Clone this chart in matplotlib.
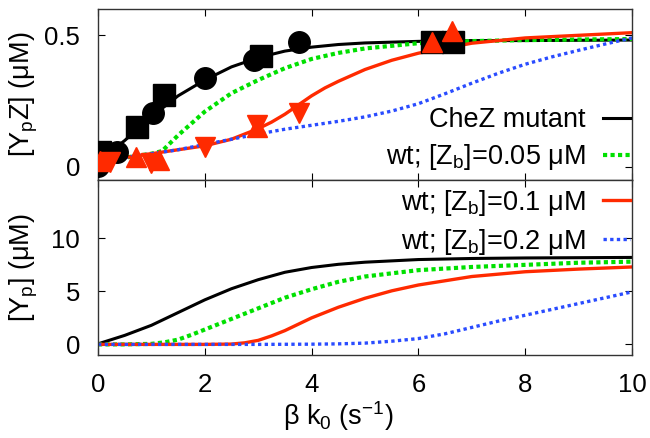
import matplotlib
matplotlib.use("Agg")
import matplotlib.pyplot as plt
from matplotlib.lines import Line2D

plt.rcParams["font.family"] = ["Liberation Sans", "DejaVu Sans"]
plt.rcParams["mathtext.fontset"] = "custom"
plt.rcParams["mathtext.rm"] = "Liberation Sans"
plt.rcParams["mathtext.it"] = "Liberation Sans:italic"
plt.rcParams["font.size"] = 19

# --- courbes du panneau haut : [YpZ] (uM) ---
x_mut_h = [0, 0.5, 1, 1.5, 2, 2.5, 3, 3.5, 4, 4.5, 5, 6, 7, 8, 9, 10]
y_mut_h = [0.02, 0.1, 0.19, 0.27, 0.33, 0.38, 0.415, 0.44, 0.455, 0.465, 0.471, 0.477, 0.48, 0.48, 0.481, 0.482]

x_z05_h = [0, 0.5, 1, 1.2, 1.5, 1.75, 2, 2.5, 3, 3.5, 4, 4.5, 5, 6, 7, 8, 10]
y_z05_h = [0.02, 0.035, 0.05, 0.06, 0.12, 0.165, 0.21, 0.28, 0.33, 0.375, 0.41, 0.433, 0.45, 0.47, 0.478, 0.482, 0.486]

x_z1_h = [0, 0.5, 1, 1.5, 2, 2.5, 3, 3.25, 3.5, 3.75, 4, 4.25, 4.5, 5, 5.5, 6, 7, 8, 9, 10]
y_z1_h = [0.02, 0.035, 0.05, 0.065, 0.08, 0.105, 0.145, 0.17, 0.2, 0.235, 0.27, 0.3, 0.325, 0.37,
          0.405, 0.432, 0.47, 0.49, 0.5, 0.51]

x_z2_h = [0, 0.5, 1, 1.5, 2, 2.5, 3, 3.5, 4, 4.5, 5, 5.5, 6, 6.5, 7, 7.5, 8, 8.5, 9, 9.5, 10]
y_z2_h = [0.02, 0.035, 0.05, 0.065, 0.085, 0.105, 0.125, 0.143, 0.158, 0.173, 0.19, 0.212, 0.24,
          0.278, 0.318, 0.356, 0.39, 0.418, 0.443, 0.467, 0.49]

# --- points experimentaux ---
x_cercles = [0.0, 0.35, 1.03, 2.0, 2.93, 3.77]
y_cercles = [0.005, 0.055, 0.205, 0.336, 0.405, 0.473]
x_carres = [0.04, 0.73, 1.23, 3.06, 6.26, 6.64]
y_carres = [0.055, 0.15, 0.273, 0.42, 0.473, 0.473]
x_tri_haut = [0.03, 0.72, 1.15, 2.98, 6.26, 6.63]
y_tri_haut = [0.024, 0.036, 0.026, 0.15, 0.475, 0.517]
x_tri_bas = [0.22, 1.0, 2.0, 2.98, 3.76]
y_tri_bas = [0.02, 0.015, 0.074, 0.16, 0.205]

# --- courbes du panneau bas : [Yp] (uM) ---
x_mut_b = [0, 0.5, 1, 1.5, 2, 2.5, 3, 3.5, 4, 4.5, 5, 6, 7, 8, 10]
y_mut_b = [0.05, 0.85, 1.8, 3.0, 4.2, 5.25, 6.1, 6.8, 7.25, 7.55, 7.75, 8.0, 8.1, 8.15, 8.2]

x_z05_b = [0, 0.5, 1, 1.25, 1.5, 1.75, 2, 2.5, 3, 3.5, 4, 4.5, 5, 6, 7, 8, 9, 10]
y_z05_b = [0, 0, 0.05, 0.2, 0.45, 0.9, 1.4, 2.4, 3.4, 4.4, 5.2, 5.9, 6.4, 7.0, 7.3, 7.5, 7.7, 7.8]

x_z1_b = [0, 1, 2, 2.5, 2.75, 3, 3.25, 3.5, 3.75, 4, 4.5, 5, 5.5, 6, 7, 8, 9, 10]
y_z1_b = [0, 0, 0, 0.03, 0.15, 0.38, 0.8, 1.3, 1.9, 2.5, 3.5, 4.35, 5.05, 5.6, 6.4, 6.85, 7.1, 7.3]

x_z2_b = [0, 1, 2, 3, 4, 4.5, 5, 5.5, 6, 6.5, 7, 7.5, 8, 8.5, 9, 9.5, 10]
y_z2_b = [0, 0, 0, 0, 0.02, 0.05, 0.12, 0.3, 0.55, 1.0, 1.6, 2.2, 2.75, 3.3, 3.85, 4.4, 4.95]

noms = ["CheZ mutant",
        r"wt; [Z$_\mathrm{b}$]=0.05 μM",
        r"wt; [Z$_\mathrm{b}$]=0.1 μM",
        r"wt; [Z$_\mathrm{b}$]=0.2 μM"]

styles = [
    dict(color="black", lw=2.2, linestyle="-"),
    dict(color="#00e000", lw=3.0, linestyle=(0, (1, 0.8))),
    dict(color="#ff2a00", lw=2.4, linestyle="-"),
    dict(color="#2a4cff", lw=2.4, linestyle=(0, (1, 1))),
]

fig = plt.figure(figsize=(6.5, 4.38), dpi=100)
ax1 = fig.add_axes([98 / 650, 1 - 180 / 438, 534 / 650, 171 / 438])
ax2 = fig.add_axes([98 / 650, 1 - 355 / 438, 534 / 650, 175 / 438])

courbes_h = [(x_mut_h, y_mut_h), (x_z05_h, y_z05_h), (x_z1_h, y_z1_h), (x_z2_h, y_z2_h)]
courbes_b = [(x_mut_b, y_mut_b), (x_z05_b, y_z05_b), (x_z1_b, y_z1_b), (x_z2_b, y_z2_b)]

for (xs, ys), st in zip(courbes_h, styles):
    ax1.plot(xs, ys, **st)
for (xs, ys), st in zip(courbes_b, styles):
    ax2.plot(xs, ys, **st)

ax1.plot(x_cercles, y_cercles, "o", color="black", ms=15.5, zorder=3)
ax1.plot(x_carres, y_carres, "s", color="black", ms=16, zorder=3)
ax1.plot(x_tri_haut, y_tri_haut, "^", color="#ff2a00", ms=15, zorder=4)
ax1.plot(x_tri_bas, y_tri_bas, "v", color="#ff2a00", ms=15, zorder=4)

for ax in (ax1, ax2):
    ax.set_xlim(0, 10)
    ax.set_xticks([0, 2, 4, 6, 8, 10])
    ax.tick_params(direction="in", top=True, right=True, length=5, width=0.8,
                   pad=13, labelsize=18.5)
    for sp in ax.spines.values():
        sp.set_color("#333333")
        sp.set_linewidth(1.0)

ax1.tick_params(labelbottom=False)
ax1.set_ylim(-0.05, 0.6)
ax1.set_yticks([0, 0.5], ["0", "0.5"])
ax2.set_ylim(-1, 15.5)
ax2.set_yticks([0, 5, 10], ["0", "5", "10"])

ax1.set_ylabel(r"[Y$_\mathrm{p}$Z] (μM)", fontsize=19.5)
ax2.set_ylabel(r"[Y$_\mathrm{p}$] (μM)", fontsize=19.5)
ax1.yaxis.set_label_coords(-0.109, 0.5)
ax2.yaxis.set_label_coords(-0.109, 0.5)
ax2.set_xlabel(r"β k$_\mathrm{0}$ (s$^\mathrm{-1}$)", fontsize=19.5)
ax2.xaxis.set_label_coords(0.449, -0.25)

poignees = [Line2D([], [], **st) for st in styles]
leg_opts = dict(loc="center right", frameon=False, markerfirst=False,
                handlelength=1.0, handletextpad=0.65, labelspacing=0.33,
                borderpad=0, borderaxespad=0, fontsize=19.5)
ax1.legend(poignees[:2], noms[:2], bbox_to_anchor=(0.996, 0.235), **leg_opts)
ax2.legend(poignees[2:], noms[2:], bbox_to_anchor=(0.996, 0.758), **leg_opts)

plt.savefig("out.png", dpi=100)
